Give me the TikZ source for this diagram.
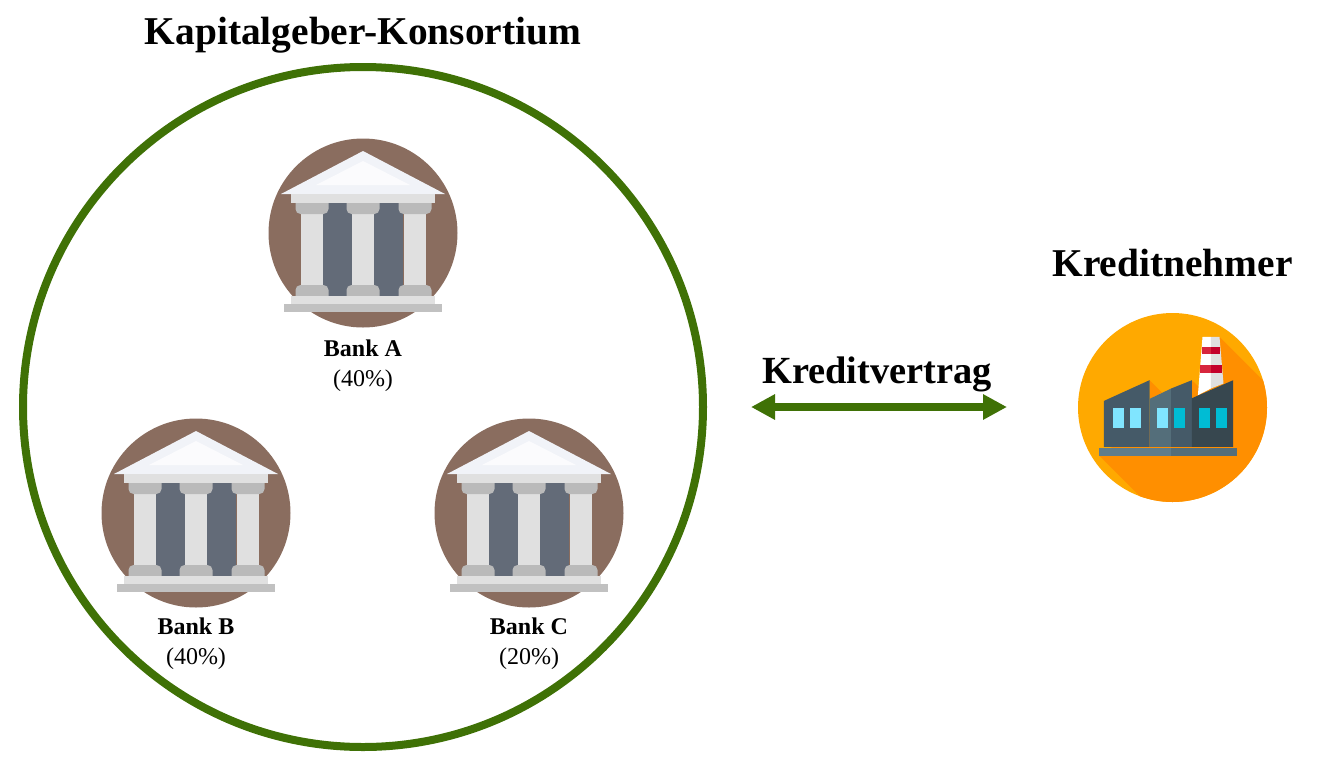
\documentclass[tikz,border=0pt]{standalone}
\usepackage{fontspec}
\setmainfont{Liberation Serif}
\usetikzlibrary{arrows.meta,positioning}
\definecolor{consgreen}{HTML}{3F7106}
\definecolor{bankbrown}{HTML}{8A6D5F}
\definecolor{bankwall}{HTML}{636B78}
\definecolor{bankcap}{HTML}{BABABA}
\definecolor{bankcol}{HTML}{E0E0E0}
\definecolor{roofgrey}{HTML}{F1F3F8}
\definecolor{sunlight}{HTML}{FFA900}
\definecolor{sunshade}{HTML}{FF8F00}
\definecolor{chimneyred}{HTML}{D7263D}
\definecolor{chimneydark}{HTML}{C4002B}
\definecolor{factoryA}{HTML}{455A68}
\definecolor{factoryB}{HTML}{546E7A}
\definecolor{factoryC}{HTML}{37474F}
\definecolor{factoryD}{HTML}{607D8B}
\definecolor{windowlight}{HTML}{80E5FF}
\definecolor{windowteal}{HTML}{00BCD4}
\tikzset{
titlelabel/.style={
    font=\fontsize{19.7}{23}\selectfont\bfseries,
    inner sep=0pt
},
banklabel/.style={
    font=\fontsize{12}{15}\selectfont,
    align=center,
    inner sep=0pt
},
bankdisc/.style={
    circle,
    fill=bankbrown,
    minimum size=94.5pt,
    inner sep=0pt
},
factorydisc/.style={
    circle,
    fill=sunlight,
    minimum size=94.5pt,
    inner sep=0pt
},
bankicon/.pic={
    \fill[roofgrey] (0,-82) -- (82,-39) -- (-82,-39) -- cycle;
    \fill[white!70!roofgrey] (0,-72) -- (47,-48) -- (-47,-48) -- cycle;
    \fill[bankwall] (-40,-30) rectangle (40,63);
    \foreach \cx in {-51,0,52}{
        \fill[bankcol] (\cx-11,-25) rectangle (\cx+11,58);
        \fill[bankcap,rounded corners=2.5pt] (\cx-16.5,-36) rectangle (\cx+16.5,-19);
        \fill[bankcap,rounded corners=2.5pt] (\cx-16.5,52) rectangle (\cx+16.5,69);
    }
    \fill[bankcol] (-72,-39) rectangle (72,-30);
    \fill[bankcol] (-72,63) rectangle (72,71);
    \fill[bankcap!90!white] (-79,71) rectangle (79,79);
},
factoryicon/.pic={
    \begin{scope}
    \clip (0,0) circle (94.5);
    \fill[sunshade] (47,-70.6) -- (170,52.4) -- (170,178) -- (56.7,178) -- (-73.3,48) -- (0,0) -- (19.4,-27.3) -- (31,-16) -- (38,-70.6) -- cycle;
    \fill[sunshade] (-23,-27.3) -- (-10.6,-15) -- (-23,-8.6) -- cycle;
    \end{scope}
    \fill[white] (30,-70.6) -- (38.4,-70.6) -- (38.4,-19) -- (25.4,-12.3) -- cycle;
    \fill[bankcol] (38.4,-70.6) -- (47,-70.6) -- (51,-24) -- (38.4,-19) -- cycle;
    \fill[chimneyred] (29,-60.6) rectangle (38.4,-54);
    \fill[chimneydark] (38.4,-60.6) rectangle (47.7,-54);
    \fill[chimneyred] (27.7,-42.3) rectangle (38.4,-34.6);
    \fill[chimneydark] (38.4,-42.3) rectangle (49.7,-34.6);
    \fill[factoryA] (-68.6,-6.6) -- (-23,-27.3) -- (-23,39.4) -- (-68.6,39.4) -- cycle;
    \fill[factoryB] (-23,-8.6) -- (-1.3,-19) -- (-1.3,39.4) -- (-23,39.4) -- cycle;
    \fill[factoryA] (-1.3,-19) -- (19.4,-27.3) -- (19.4,39.4) -- (-1.3,39.4) -- cycle;
    \fill[factoryC] (19.4,-9.3) -- (60.7,-27.3) -- (60.7,39.4) -- (19.4,39.4) -- cycle;
    \foreach \wx in {-59.6,-43,-15.6}{
        \fill[windowlight] (\wx,0) rectangle (\wx+11,20);
    }
    \foreach \wx in {1.7,26.7,43}{
        \fill[windowteal] (\wx,0) rectangle (\wx+11,20);
    }
    \fill[factoryD] (-73.3,40) rectangle (-1.3,48);
    \fill[factoryB] (-1.3,40) rectangle (64.4,48);
}
}
\begin{document}
\begin{tikzpicture}[x=0.5pt,y=-0.5pt]
\useasboundingbox (0,0) rectangle (1318,772);

% consortium
\node[circle,draw=consgreen,line width=4pt,minimum size=340pt,inner sep=0pt] (konsortium) at (363,407) {};
\node[titlelabel] (konsortiumtitle) at (363,35) {Kapitalgeber-Konsortium};

\node[bankdisc] (bankA) at (363,233) {};
\node[bankdisc] (bankB) at (196,513) {};
\node[bankdisc] (bankC) at (529,513) {};
\pic at (bankA) {bankicon};
\pic at (bankB) {bankicon};
\pic at (bankC) {bankicon};
\node[banklabel,below=6pt of bankA] (labelA) {\textbf{Bank A}\\(40\%)};
\node[banklabel,below=5pt of bankB] (labelB) {\textbf{Bank B}\\(40\%)};
\node[banklabel,below=5pt of bankC] (labelC) {\textbf{Bank C}\\(20\%)};

% borrower
\node[factorydisc] (factory) at (1172.5,407.5) {};
\pic at (factory) {factoryicon};
\node[titlelabel] (factorytitle) at (1172.5,263) {Kreditnehmer};

\coordinate (vertragL) at (751,407);
\coordinate (vertragR) at (1007,407);
\draw[{Triangle[length=12pt,width=12pt]}-{Triangle[length=12pt,width=12pt]},line width=4pt,consgreen] (vertragL) -- (vertragR);
\node[titlelabel,font=\fontsize{19.2}{23}\selectfont\bfseries] (vertrag) at (877,374) {Kreditvertrag};
\end{tikzpicture}
\end{document}
